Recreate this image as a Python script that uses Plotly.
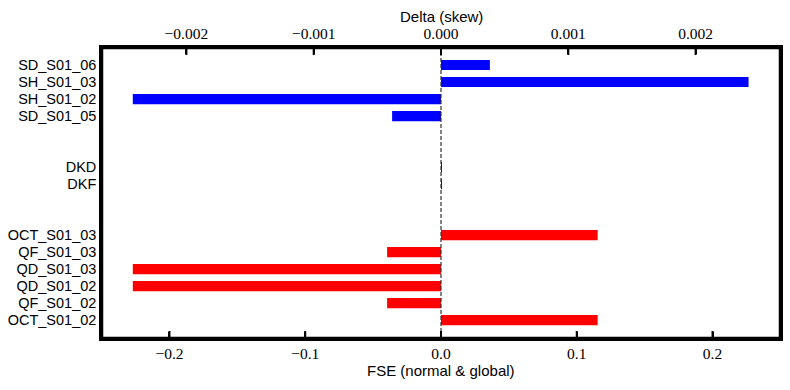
import plotly.graph_objects as go

# Categories and positions (bottom to top)
fse_labels = ["OCT_S01_02", "QF_S01_02", "QD_S01_02", "QD_S01_03", "QF_S01_03", "OCT_S01_03"]
fse_pos = [0, 1, 2, 3, 4, 5]
fse_values = [0.1154, -0.0397, -0.227, -0.227, -0.0397, 0.1154]

skew_labels = ["DKF", "DKD", "SD_S01_05", "SH_S01_02", "SH_S01_03", "SD_S01_06"]
skew_pos = [8, 9, 12, 13, 14, 15]
skew_values = [0.000002, 0.000002, -0.000384, -0.002421, 0.002416, 0.000384]

fse_ticks = [-0.2, -0.1, 0.0, 0.1, 0.2]
skew_ticks = [-0.002, -0.001, 0.0, 0.001, 0.002]

fse_title = "FSE (normal &amp; global)"
skew_title = "Delta (skew)"

fse_lim = max(abs(v) for v in fse_values) * 1.1
skew_lim = max(abs(v) for v in skew_values) * 1.1

serif = "Liberation Serif"
sans = "Liberation Sans"

fig = go.Figure()
fig.add_trace(go.Bar(
    y=fse_pos, x=fse_values, orientation="h", width=0.6,
    marker=dict(color="#ff0000", line=dict(width=0)),
    xaxis="x", yaxis="y", showlegend=False,
))
fig.add_trace(go.Bar(
    y=skew_pos, x=skew_values, orientation="h", width=0.6,
    marker=dict(color="#0000ff", line=dict(width=0)),
    xaxis="x2", yaxis="y", showlegend=False,
))

# zero reference line
fig.add_shape(type="line", xref="x", yref="paper", x0=0, x1=0, y0=0, y1=1,
              line=dict(color="#333333", width=1.2, dash="4px,2px"), layer="above")
# inward tick marks (bottom axis and top axis), drawn at the tick values
for t in fse_ticks:
    fig.add_shape(type="line", xref="x", yref="paper", ysizemode="pixel", yanchor=0,
                  x0=t, x1=t, y0=0, y1=7, line=dict(color="black", width=2), layer="above")
for t in skew_ticks:
    fig.add_shape(type="line", xref="x2", yref="paper", ysizemode="pixel", yanchor=1,
                  x0=t, x1=t, y0=-7, y1=0, line=dict(color="black", width=2), layer="above")
# axes frame
fig.add_shape(type="rect", xref="paper", yref="paper", x0=0, x1=1, y0=0, y1=1,
              line=dict(color="black", width=2.5), fillcolor="rgba(0,0,0,0)", layer="above")

# axis titles
fig.add_annotation(text=skew_title, xref="paper", yref="paper", x=0.5, y=1,
                   xanchor="center", yanchor="bottom", yshift=21, showarrow=False,
                   font=dict(family=sans, size=15, color="black"))
fig.add_annotation(text=fse_title, xref="paper", yref="paper", x=0.5, y=0,
                   xanchor="center", yanchor="top", yshift=-22, showarrow=False,
                   font=dict(family=sans, size=15, color="black"))

fig.update_layout(
    width=790, height=390,
    margin=dict(l=102, r=10, t=48, b=52),
    plot_bgcolor="white", paper_bgcolor="white",
    barmode="overlay",
    xaxis=dict(
        range=[-fse_lim, fse_lim], tickvals=fse_ticks, tickformat=".1f",
        ticks="inside", ticklen=6, tickwidth=2, tickcolor="black",
        showline=True, linecolor="black", linewidth=2.5,
        showgrid=False, zeroline=False, automargin=False,
        tickfont=dict(family=serif, size=15.5, color="black"),
    ),
    xaxis2=dict(
        range=[-skew_lim, skew_lim], tickvals=skew_ticks, tickformat=".3f",
        overlaying="x", side="top", anchor="y",
        ticks="inside", ticklen=6, tickwidth=2, tickcolor="black",
        showline=True, linecolor="black", linewidth=2.5,
        showgrid=False, zeroline=False, automargin=False,
        tickfont=dict(family=serif, size=15.5, color="black"),
    ),
    yaxis=dict(
        range=[-1.05, 16.0],
        tickvals=fse_pos + skew_pos, ticktext=fse_labels + skew_labels,
        ticks="", showline=True, linecolor="black", linewidth=2.5, mirror=True,
        showgrid=False, zeroline=False, automargin=False,
        tickfont=dict(family=sans, size=14.5, color="black"),
    ),
)

fig.write_html("out.html", config={"displayModeBar": False})

# remove default page margins so the 790x390 figure fills the window exactly
with open("out.html", "r", encoding="utf-8") as f:
    html = f.read()
html = html.replace("<head>", "<head><style>html,body{margin:0;padding:0;overflow:hidden;}</style>", 1)
with open("out.html", "w", encoding="utf-8") as f:
    f.write(html)
